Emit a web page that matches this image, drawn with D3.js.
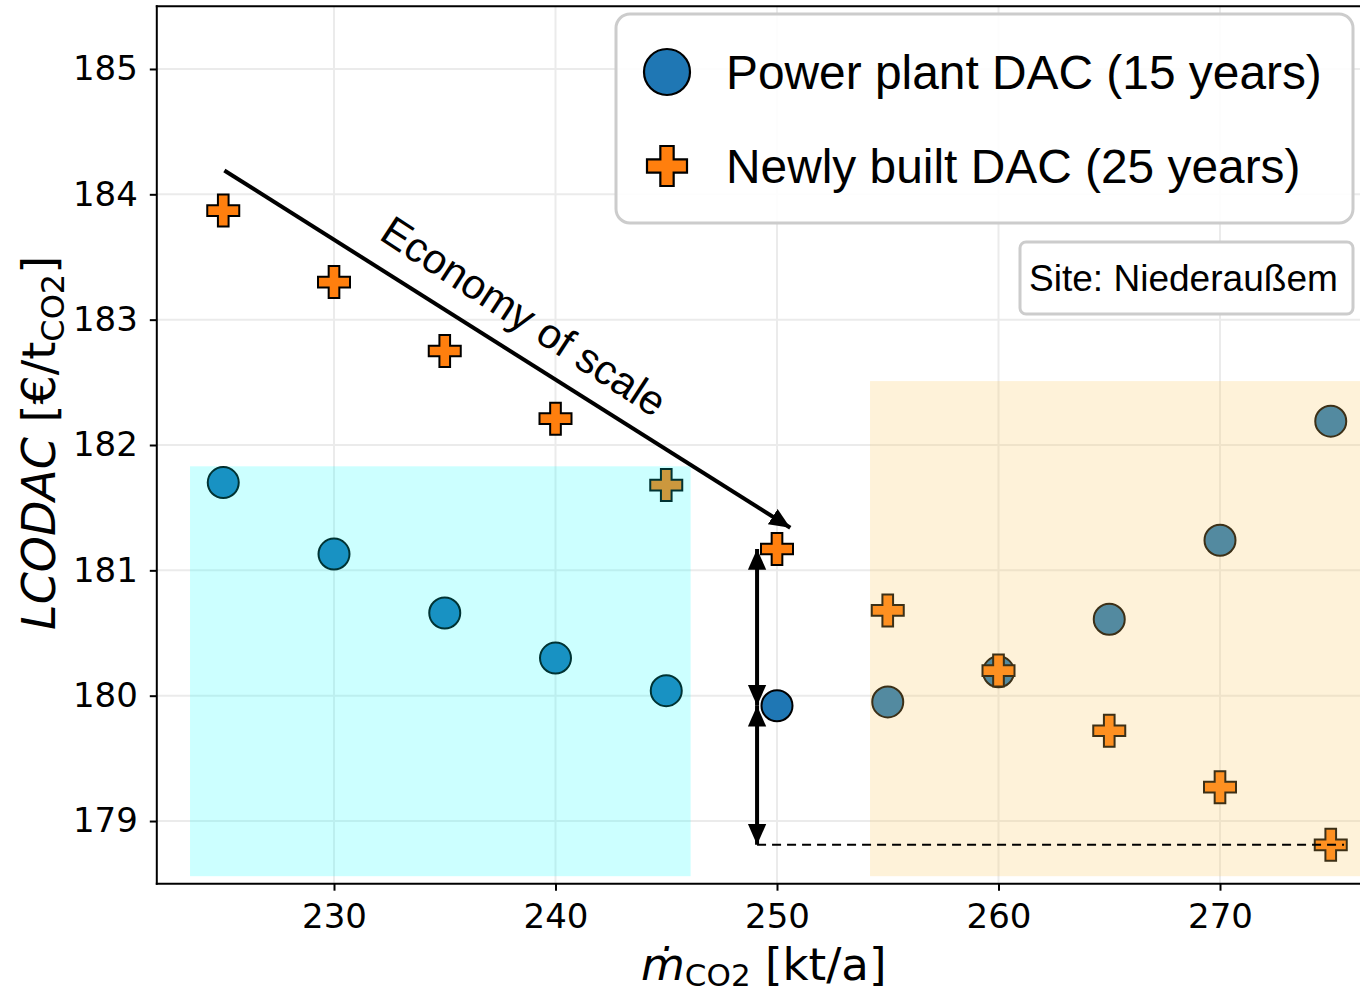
<!DOCTYPE html>
<html><head><meta charset="utf-8">
<script src="https://cdn.jsdelivr.net/npm/d3@7"></script>
<style>body{margin:0;background:#fff}</style>
</head><body>
<svg id="c" width="1360" height="994"></svg>
<script>
const xVals = [225, 230, 235, 240, 245, 250, 255, 260, 265, 270, 275];
const powerPlant = [181.70, 181.13, 180.66, 180.30, 180.04, 179.92, 179.95, 180.19, 180.61, 181.24, 182.19];
const newlyBuilt = [183.87, 183.30, 182.75, 182.21, 181.68, 181.17, 180.68, 180.20, 179.72, 179.27, 178.81];
const xTicks = [230, 240, 250, 260, 270];
const yTicks = [179, 180, 181, 182, 183, 184, 185];
const seriesNames = ["Power plant DAC (15 years)", "Newly built DAC (25 years)"];
const siteLabel = "Site: Niederaußem";
const annotationText = "Economy of scale";
// shaded regions [x0,x1,y0,y1] in data units
const cyanRegion = [223.5, 246.1, 178.56, 181.83];
const orangeRegion = [254.2, 280, 178.56, 182.51];
// annotation arrows in data units
const scaleArrow = [[225.05, 184.19], [250.6, 181.34]];
const gapX = 249.1;
const dashEnd = 275.6;

const svg = d3.select("#c");
svg.append("rect").attr("width",1360).attr("height",994).attr("fill","#fff");

const x = d3.scaleLinear().domain([222, 278]).range([156.8, 1397.2]);
const y = d3.scaleLinear().domain([178.5, 185.5]).range([883.7, 6.3]);
const L = 156.8, R = 1397.2, T = 6.3, B = 883.7;

const defs = svg.append("defs");
defs.append("clipPath").attr("id","clip").append("rect").attr("x",L).attr("y",T).attr("width",R-L).attr("height",B-T);
const mk = defs.append("marker").attr("id","ah").attr("viewBox","0 0 10 10").attr("refX",10).attr("refY",5)
  .attr("markerWidth",5.2).attr("markerHeight",5.2).attr("markerUnits","strokeWidth").attr("orient","auto-start-reverse");
mk.append("path").attr("d","M0,0.6 L10,5 L0,9.4 Z").attr("fill","#000");

// grid
const g = svg.append("g").attr("clip-path","url(#clip)");
g.selectAll(".gx").data(xTicks).enter().append("line")
  .attr("x1",d=>x(d)).attr("x2",d=>x(d)).attr("y1",T).attr("y2",B)
  .attr("stroke","#ebebeb").attr("stroke-width",2);
g.selectAll(".gy").data(yTicks).enter().append("line")
  .attr("x1",L).attr("x2",R).attr("y1",d=>y(d)).attr("y2",d=>y(d))
  .attr("stroke","#ebebeb").attr("stroke-width",2);

function plusPath(h){
  const a = h/3;
  return `M${-a},${-h}L${a},${-h}L${a},${-a}L${h},${-a}L${h},${a}L${a},${a}L${a},${h}L${-a},${h}L${-a},${a}L${-h},${a}L${-h},${-a}L${-a},${-a}Z`;
}

// markers
g.selectAll(".pp").data(xVals).enter().append("circle")
  .attr("cx",d=>x(d)).attr("cy",(d,i)=>y(powerPlant[i])).attr("r",15.5)
  .attr("fill","#1f77b4").attr("stroke","#000").attr("stroke-width",2);
g.selectAll(".nb").data(xVals).enter().append("path")
  .attr("d",plusPath(16)).attr("transform",(d,i)=>`translate(${x(d)},${y(newlyBuilt[i])})`)
  .attr("fill","#ff7f0e").attr("stroke","#000").attr("stroke-width",2).attr("stroke-linejoin","miter");

// shaded regions
g.append("rect").attr("x",x(cyanRegion[0])).attr("width",x(cyanRegion[1])-x(cyanRegion[0]))
  .attr("y",y(cyanRegion[3])).attr("height",y(cyanRegion[2])-y(cyanRegion[3]))
  .attr("fill","#00ffff").attr("fill-opacity",0.2);
g.append("rect").attr("x",x(orangeRegion[0])).attr("width",x(orangeRegion[1])-x(orangeRegion[0]))
  .attr("y",y(orangeRegion[3])).attr("height",y(orangeRegion[2])-y(orangeRegion[3]))
  .attr("fill","rgb(251,201,97)").attr("fill-opacity",0.24);

// annotations
svg.append("line").attr("x1",x(scaleArrow[0][0])).attr("y1",y(scaleArrow[0][1]))
  .attr("x2",x(scaleArrow[1][0])).attr("y2",y(scaleArrow[1][1]))
  .attr("stroke","#000").attr("stroke-width",4).attr("marker-end","url(#ah)");
svg.append("line").attr("x1",x(gapX)).attr("x2",x(gapX)).attr("y1",y(newlyBuilt[5])).attr("y2",y(powerPlant[5]))
  .attr("stroke","#000").attr("stroke-width",4).attr("marker-end","url(#ah)").attr("marker-start","url(#ah)");
svg.append("line").attr("x1",x(gapX)).attr("x2",x(gapX)).attr("y1",y(powerPlant[5])).attr("y2",y(newlyBuilt[10]))
  .attr("stroke","#000").attr("stroke-width",4).attr("marker-end","url(#ah)").attr("marker-start","url(#ah)");
svg.append("line").attr("x1",x(gapX)).attr("x2",x(dashEnd)).attr("y1",y(newlyBuilt[10])).attr("y2",y(newlyBuilt[10]))
  .attr("stroke","#000").attr("stroke-width",2).attr("stroke-dasharray","9,6");

const ang = 33;
const et = svg.append("text").attr("text-anchor","middle")
  .attr("transform",`translate(524,316) rotate(${ang})`).attr("dy","0.35em")
  .style("font-family","'Liberation Sans', Arial, sans-serif").style("font-size","38px").text(annotationText);
{ const w = et.node().getComputedTextLength(); et.style("font-size",(38*330/w)+"px"); }

// spines
svg.append("line").attr("x1",L).attr("x2",L).attr("y1",T-1).attr("y2",B+1).attr("stroke","#000").attr("stroke-width",2);
svg.append("line").attr("x1",L-1).attr("x2",1360).attr("y1",B).attr("y2",B).attr("stroke","#000").attr("stroke-width",2);
svg.append("line").attr("x1",L-1).attr("x2",1360).attr("y1",T).attr("y2",T).attr("stroke","#000").attr("stroke-width",2);

// axes
const fontTick = "'DejaVu Sans', sans-serif";
const xa = svg.append("g").attr("transform",`translate(0,${B})`)
  .call(d3.axisBottom(x).tickValues(xTicks).tickSize(7).tickPadding(13).tickFormat(d3.format("d")));
xa.select(".domain").remove();
xa.selectAll("line").attr("stroke","#000").attr("stroke-width",2);
xa.selectAll("text").style("font-family",fontTick).style("font-size","34px").attr("fill","#000");
const ya = svg.append("g").attr("transform",`translate(${L},0)`)
  .call(d3.axisLeft(y).tickValues(yTicks).tickSize(7).tickPadding(12).tickFormat(d3.format("d")));
ya.select(".domain").remove();
ya.selectAll("line").attr("stroke","#000").attr("stroke-width",2);
ya.selectAll("text").style("font-family",fontTick).style("font-size","34px").attr("fill","#000");

// axis labels
const xl = svg.append("text").attr("x",641).attr("y",980).style("font-family",fontTick).style("font-size","45px");
xl.append("tspan").style("font-style","italic").text("ṁ");
xl.append("tspan").attr("dy",6).style("font-size","31px").text("CO2");
xl.append("tspan").attr("dy",-6).text(" [kt/a]");

const yl = svg.append("text").attr("transform","translate(55,630) rotate(-90)").style("font-family",fontTick).style("font-size","46px");
yl.append("tspan").style("font-style","italic").text("LCODAC");
yl.append("tspan").text(" [€/t");
yl.append("tspan").attr("dy",9).style("font-size","32px").text("CO2");
yl.append("tspan").attr("dy",-9).text("]");

// legend
const lf = "'Liberation Sans', Arial, sans-serif";
svg.append("rect").attr("x",616).attr("y",14).attr("width",737).attr("height",209).attr("rx",14)
  .attr("fill","#fff").attr("fill-opacity",0.9).attr("stroke","#cccccc").attr("stroke-width",3);
svg.append("circle").attr("cx",667).attr("cy",72).attr("r",23).attr("fill","#1f77b4").attr("stroke","#000").attr("stroke-width",2.2);
svg.append("path").attr("d",plusPath(20)).attr("transform","translate(667,166)").attr("fill","#ff7f0e").attr("stroke","#000").attr("stroke-width",2.2);
const lt1 = svg.append("text").attr("x",726).attr("y",89).style("font-family",lf).style("font-size","44px").text(seriesNames[0]);
const lt2 = svg.append("text").attr("x",726).attr("y",183).style("font-family",lf).style("font-size","44px").text(seriesNames[1]);
{ const w = lt1.node().getComputedTextLength(); const s = 44*596/w; lt1.style("font-size",s+"px"); lt2.style("font-size",s+"px"); }

svg.append("rect").attr("x",1020).attr("y",242).attr("width",333).attr("height",72).attr("rx",6)
  .attr("fill","#fff").attr("stroke","#cccccc").attr("stroke-width",3);
const st = svg.append("text").attr("x",1029).attr("y",291).style("font-family",lf).style("font-size","32px").text(siteLabel);
{ const w = st.node().getComputedTextLength(); st.style("font-size",(32*309/w)+"px"); }
</script>
</body></html>
